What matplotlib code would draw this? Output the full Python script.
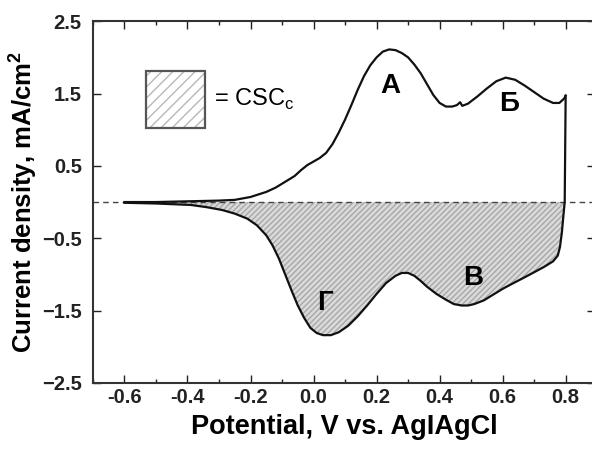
import matplotlib
matplotlib.use("Agg")
import matplotlib.pyplot as plt
from matplotlib.patches import Rectangle
from matplotlib.ticker import MultipleLocator

# anodic sweep (upper branch), V vs mA/cm2
anodic_x = [-0.6, -0.5, -0.4, -0.3, -0.25, -0.2, -0.15, -0.12, -0.09, -0.06, -0.04,
            -0.02, 0.0, 0.02, 0.04, 0.06, 0.08, 0.10, 0.12, 0.14, 0.16, 0.18, 0.20,
            0.22, 0.24, 0.26, 0.28, 0.30, 0.32, 0.34, 0.36, 0.38, 0.40, 0.42, 0.44,
            0.455, 0.465, 0.472, 0.49, 0.52, 0.55, 0.58, 0.61, 0.64, 0.67, 0.70,
            0.73, 0.76, 0.78, 0.795, 0.80]
anodic_y = [0.0, 0.0, 0.01, 0.02, 0.03, 0.07, 0.14, 0.2, 0.28, 0.36, 0.44,
            0.51, 0.56, 0.61, 0.68, 0.80, 0.96, 1.14, 1.34, 1.55, 1.74, 1.89, 2.0,
            2.08, 2.11, 2.1, 2.06, 2.0, 1.9, 1.78, 1.63, 1.48, 1.37, 1.32, 1.32,
            1.34, 1.38, 1.33, 1.36, 1.46, 1.57, 1.67, 1.72, 1.69, 1.61, 1.52,
            1.43, 1.37, 1.37, 1.43, 1.47]

# cathodic sweep (lower branch), going back from 0.8 V
cathodic_x = [0.80, 0.797, 0.793, 0.788, 0.782, 0.775, 0.76, 0.73, 0.70, 0.67, 0.63,
              0.60, 0.57, 0.54, 0.51, 0.49, 0.47, 0.445, 0.42, 0.39, 0.36, 0.34,
              0.32, 0.30, 0.28, 0.26, 0.23, 0.20, 0.17, 0.14, 0.11, 0.08, 0.055,
              0.03, 0.01, -0.01, -0.03, -0.05, -0.07, -0.09, -0.11, -0.13, -0.15,
              -0.18, -0.21, -0.25, -0.29, -0.34, -0.39, -0.5, -0.6]
cathodic_y = [1.47, 0.0, -0.18, -0.42, -0.62, -0.74, -0.82, -0.90, -0.97, -1.04, -1.13,
              -1.2, -1.28, -1.36, -1.41, -1.43, -1.43, -1.41, -1.35, -1.27, -1.17, -1.09,
              -1.02, -0.98, -0.98, -1.02, -1.12, -1.27, -1.43, -1.58, -1.71, -1.8, -1.84,
              -1.84, -1.81, -1.74, -1.6, -1.43, -1.22, -1.0, -0.78, -0.6, -0.46,
              -0.32, -0.23, -0.16, -0.11, -0.07, -0.04, -0.02, -0.01]

peak_labels = ["А", "Б", "В", "Г"]
peak_x = [0.245, 0.62, 0.505, 0.035]
peak_y = [1.60, 1.36, -1.05, -1.40]

plt.rcParams['font.family'] = ['Liberation Sans', 'DejaVu Sans']

fig = plt.figure(figsize=(5.92, 4.51), dpi=100)
ax = fig.add_axes([0.157, 0.151, 0.848, 0.802])

# charge storage capacity area
ax.fill_between(cathodic_x[1:], cathodic_y[1:], 0, facecolor='#dadada',
                edgecolor='#a8a8a8', hatch='//////', linewidth=0)
ax.axhline(0, color='#444444', lw=1.0, ls=(0, (4, 3)))
ax.plot(anodic_x, anodic_y, color='#111111', lw=1.6)
ax.plot(cathodic_x, cathodic_y, color='#111111', lw=1.6)

for t, px, py in zip(peak_labels, peak_x, peak_y):
    ax.text(px, py, t, fontsize=20, fontweight='bold', ha='center', va='center')

# legend swatch
ax.add_patch(Rectangle((-0.533, 1.03), 0.19, 0.78, facecolor='white',
                       edgecolor='#b8b8b8', hatch='///', lw=0))
ax.add_patch(Rectangle((-0.533, 1.03), 0.19, 0.78, fill=False,
                       edgecolor='#555555', lw=1.6))
ax.text(-0.315, 1.42, "= CSC$_\\mathregular{c}$", fontsize=17, va='center')

ax.set_ylim(-2.5, 2.5)
ax.xaxis.set_major_locator(MultipleLocator(0.2))
ax.xaxis.set_minor_locator(MultipleLocator(0.1))
ax.set_yticks([-2.5, -1.5, -0.5, 0.5, 1.5, 2.5])
ax.set_xlim(-0.7, 0.893)
ax.set_xticks([-0.6, -0.4, -0.2, 0.0, 0.2, 0.4, 0.6, 0.8])
ax.set_xticklabels(["%.1f" % v for v in ax.get_xticks()])
ax.set_xlim(-0.7, 0.893)
ax.tick_params(which='both', direction='in', top=True, right=True,
               labelsize=14.5, width=1.0, colors='#222222')
ax.tick_params(which='major', length=6)
ax.tick_params(axis='y', pad=8)
ax.tick_params(which='minor', length=3)
for lab in ax.get_xticklabels() + ax.get_yticklabels():
    lab.set_fontweight('bold')
for s in ax.spines.values():
    s.set_linewidth(1.5)
    s.set_color('#333333')

ax.set_xlabel("Potential, V vs. AgIAgCl", fontsize=19.5, fontweight='bold', labelpad=5)
ax.set_ylabel("Current density, mA/cm$^\\mathregular{2}$", fontsize=18.5,
              fontweight='bold', labelpad=2)

fig.savefig("out.png", dpi=100)
